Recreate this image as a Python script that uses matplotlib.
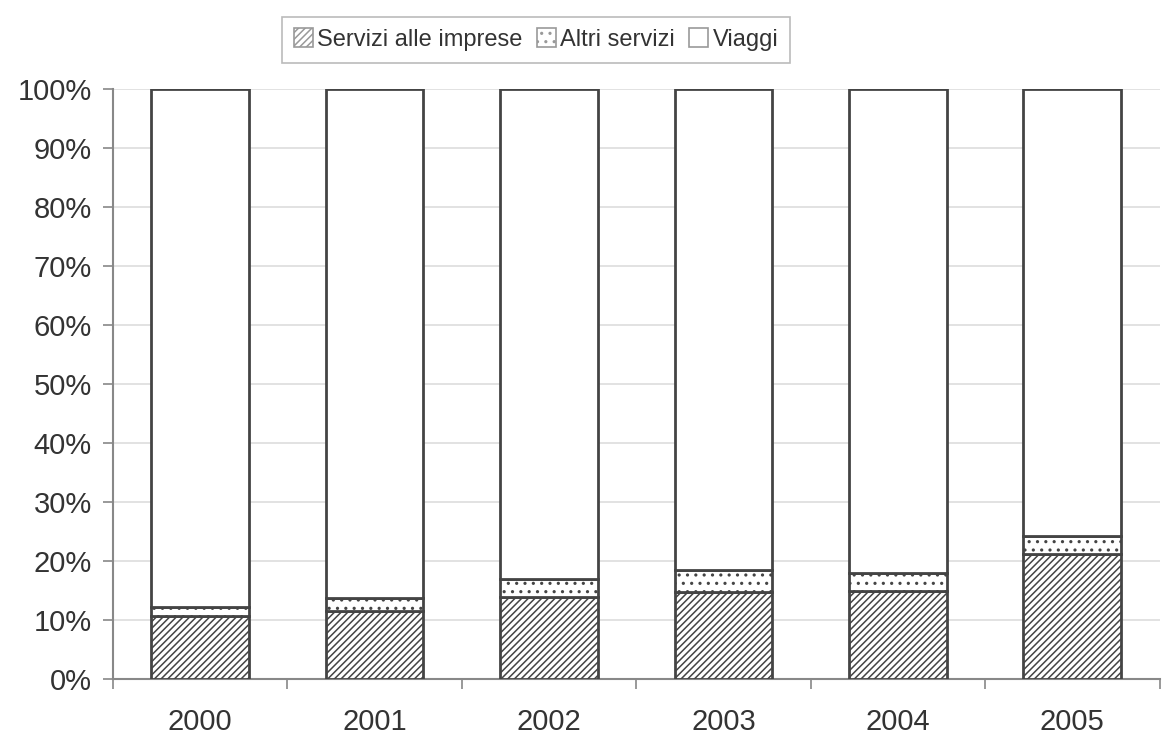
import matplotlib.pyplot as plt
import matplotlib as mpl
from matplotlib.ticker import PercentFormatter
import numpy as np

mpl.rcParams['font.family'] = ['Liberation Sans', 'DejaVu Sans']
mpl.rcParams['hatch.linewidth'] = 1.1
mpl.rcParams['hatch.color'] = '#333333'

anni = ['2000', '2001', '2002', '2003', '2004', '2005']
servizi_imprese = [10.6, 11.6, 13.9, 14.8, 14.9, 21.1]
altri_servizi = [1.6, 2.1, 3.1, 3.6, 3.1, 3.2]
viaggi = [100 - a - b for a, b in zip(servizi_imprese, altri_servizi)]

fig = plt.figure(figsize=(11.63, 7.36), dpi=100)
ax = fig.add_axes([0.097, 0.0775, 0.9, 0.8015])

x = np.arange(len(anni))
w = 0.56
edge = '#444444'
b1 = ax.bar(x, servizi_imprese, w, color='white', edgecolor=edge, hatch='/////',
            linewidth=2, label='Servizi alle imprese', zorder=3)
bottom2 = servizi_imprese
b2 = ax.bar(x, altri_servizi, w, bottom=bottom2, color='white', edgecolor=edge,
            hatch='..', linewidth=2, label='Altri servizi', zorder=3)
bottom3 = [a + b for a, b in zip(servizi_imprese, altri_servizi)]
b3 = ax.bar(x, viaggi, w, bottom=bottom3, color='white', edgecolor=edge,
            linewidth=2, label='Viaggi', zorder=3)

ax.set_xlim(-0.5, len(anni) - 0.5)
ax.set_ylim(0, 100)
ax.set_yticks(np.arange(0, 101, 10))
ax.yaxis.set_major_formatter(PercentFormatter(decimals=0))
ax.set_xticks(x)
ax.set_xticklabels(anni)
ax.set_xticks(np.arange(-0.5, len(anni), 1), minor=True)
ax.tick_params(axis='x', which='major', length=0, pad=21, labelsize=21)
ax.tick_params(axis='x', which='minor', length=7, color='#888888', width=1.2)
ax.tick_params(axis='y', length=7, color='#888888', width=1.2, labelsize=21,
               pad=8)
for lab in ax.get_xticklabels() + ax.get_yticklabels():
    lab.set_color('#333333')

ax.grid(axis='y', color='#dddddd', linewidth=1.2, zorder=0)
for s in ['top', 'right']:
    ax.spines[s].set_visible(False)
ax.spines['left'].set_color('#888888')
ax.spines['bottom'].set_color('#888888')
ax.spines['left'].set_linewidth(1.5)
ax.spines['bottom'].set_linewidth(1.5)

leg = fig.legend(handles=[b1, b2, b3], loc='center', bbox_to_anchor=(0.461, 0.946),
                 ncol=3, frameon=True, fancybox=False, fontsize=17,
                 handlelength=0.8, handleheight=0.85, handletextpad=0.2,
                 columnspacing=0.6, borderpad=0.5)
leg.get_frame().set_edgecolor('#aaaaaa')
leg.get_frame().set_linewidth(1.2)
for p in leg.get_patches():
    p.set_edgecolor('#999999')
    p.set_linewidth(1.2)
for t in leg.get_texts():
    t.set_color('#333333')

fig.savefig('out.png', dpi=100)
